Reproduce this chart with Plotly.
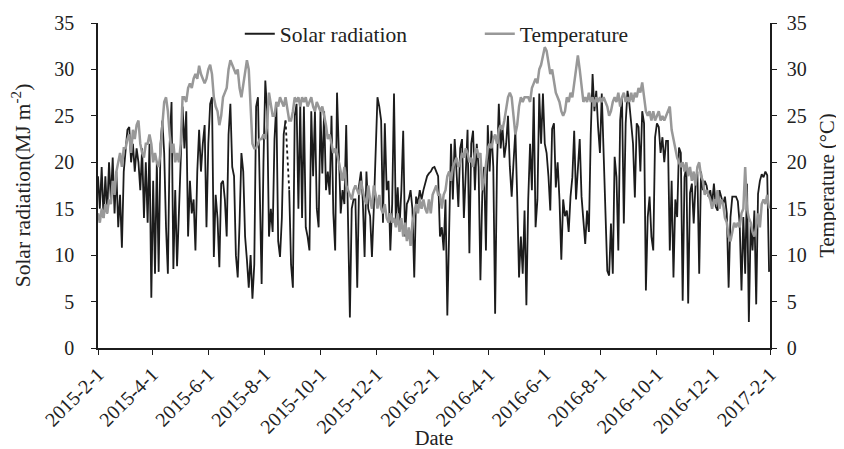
import pandas as pd
import plotly.graph_objects as go

# every second day, 2015-02-01 .. 2017-01-31
dates = pd.date_range("2015-02-01", periods=366, freq="2D")

solar = [
    18.5, 15, 19.5, 14, 18.5, 14.5, 20, 16, 20.5, 14.5,
    19, 13, 16.5, 10.8, 19, 21, 23.5, 23.8, 20, 22,
    19, 21.5, 20, 17, 21.5, 14, 20, 13.5, 22, 5.4,
    18, 8, 20, 8.2, 22, 24.5, 21, 13, 8, 22,
    26.5, 8.5, 17, 8.8, 14, 21, 26, 21.5, 25.5, 12,
    18, 14.5, 16, 10.5, 19, 23.5, 19, 22, 24, 13,
    22, 26.3, 27, 9.8, 16.5, 14, 8.7, 17.7, 18, 16,
    12, 23, 26.3, 19.5, 18.5, 10, 7.6, 13.5, 21, 19,
    12, 9.5, 6.5, 10, 5.3, 9, 26, 27, 17, 6.9,
    20, 28.8, 25.5, 12, 15, 12.5, 22.5, 26.3, 11.5, 9.8,
    14, 23, 24.5, None, 17, 9, 6.5, 25, 26.3, 15,
    26.3, 14, 26, 13, 12, 10.5, 25.5, 18.5, 25.5, 15,
    13, 25.5, 18.8, 25.5, 17, 19, 16.5, 25, 14.5, 10.5,
    27.5, 20, 14.5, 17, 15.5, 24, 13, 3.3, 15, 16,
    16, 6.5, 17.5, 19, 16, 9.8, 19, 15, 14.2, 9.8,
    15, 21, 27, 26, 24.5, 13.5, 24.2, 17, 18, 10.5,
    15.5, 27.4, 13.5, 17.3, 13, 17, 23.4, 12, 15.5, 16,
    17, 15, 7.6, 16.3, 15.5, 17, 16, 17, 17.7, 18.5,
    18.8, 19, 19.4, 19.5, 19, 18.5, 12, 13, 10.5, 16,
    3.5, 15, 22, 16, 22.5, 19, 15.2, 21.5, 22.5, 14,
    19.5, 23.5, 10.2, 22, 23.4, 17, 22, 19.5, 7.3, 16.5,
    19.5, 10.5, 24, 19, 23.4, 19.5, 3.7, 19.5, 26.3, 21.5,
    23.8, 20.5, 22, 25, 19.5, 16.3, 20, 23.4, 16.3, 7.6,
    12, 8, 14.8, 4.6, 16, 22, 17, 27, 13, 16,
    27.4, 22, 27.4, 22, 21, 18.5, 14.8, 23.6, 24.2, 17.3,
    20, 16, 9.5, 16, 14.2, 14.8, 12.5, 16.3, 18.4, 23.4,
    16, 20, 22.5, 16.3, 14.1, 11.2, 14.8, 12.5, 23, 29.5,
    25.5, 27.7, 23.8, 21, 27.4, 21.3, 15.5, 8.3, 7.8, 13.4,
    8, 20.6, 18.4, 10.5, 24.5, 27, 13.4, 24.2, 27.7, 26.3,
    24.2, 22, 16.2, 24.2, 23.8, 19, 25.5, 24.2, 6.2, 14.1,
    16.3, 12, 10.5, 22.7, 24.2, 23.8, 21, 22.7, 20, 22.3,
    22.3, 10.5, 18, 7.6, 16, 14.1, 21.6, 21, 5.1, 18.4,
    19.5, 4.8, 16.7, 17.7, 13.4, 17.7, 19, 8, 19, 17,
    18, 17.5, 16.3, 17, 15.5, 17.7, 15.2, 14.8, 17, 16.3,
    15.5, 16.3, 14.5, 6.5, 14.1, 16.3, 16.3, 16.3, 15.8, 13.4,
    6.2, 14.1, 8, 17.7, 2.8, 13.4, 10.5, 14.8, 4.7, 16.6,
    18, 18.7, 18.4, 19, 18.6, 8.2,
]

temperature = [
    14.5, 13.5, 15, 14, 15.5, 14.5, 16, 15.5, 18, 16.5,
    19, 20, 21, 19.5, 21.5, 21.5, 22.5, 23, 21, 23.5,
    22.5, 24, 24.5, 22, 21, 20.5, 22, 22, 23, 22,
    20, 21, 20, 19.5, 21, 24, 26.5, 27, 25.5, 23,
    21, 22, 20, 21, 20, 22, 27, 27, 26.5, 28,
    28.5, 28, 29, 29.5, 29, 30.4, 29.5, 29, 28.5, 29,
    30, 30.5, 29.5, 27, 26, 25.5, 24, 25, 27, 27.5,
    28, 30, 31, 30.5, 30, 29.5, 30, 28, 27, 28.5,
    30, 31, 30, 26, 22, 21.5, 21.5, 22, 22.5, 22.5,
    23, 22.5, 24, 27.5, 26, 25, 25, 26.5, 26, 27,
    26.5, 26, 27, 25.5, 24.5, 24.5, 25.5, 27, 26.5, 27,
    26, 27, 26.5, 27, 26, 26.5, 27, 26, 25.5, 26.5,
    26, 25.5, 26, 25, 24, 22.5, 23, 22, 21, 21.5,
    21, 20, 19, 18, 19.5, 17.5, 17, 16.5, 16, 17,
    17.5, 17, 16.5, 18, 17, 16, 15.5, 17.5, 16, 15,
    17.5, 16.5, 15, 16.5, 15, 14.5, 15.5, 14, 13.5, 14.5,
    13.5, 14, 13, 14.5, 12.5, 14, 12, 13.5, 11.5, 13,
    11, 13.5, 14.5, 15.5, 14.5, 16, 15, 16, 15, 14.5,
    16, 14.5, 16.5, 17, 17.5, 16.5, 16.5, 15, 16.5, 17,
    18.5, 19, 18, 19.5, 20, 20.5, 19.5, 20, 21, 20.5,
    21.5, 21, 20, 20.5, 19.5, 21, 21.5, 20.5, 21, 17,
    18, 19.5, 21.5, 22, 21.5, 22.5, 23, 22, 23.5, 24,
    23.5, 24.5, 26, 27, 27.5, 27, 25, 23, 24, 26,
    27, 26.5, 27, 27, 27, 26.5, 28, 28.5, 29, 28.5,
    30, 30.5, 31.5, 32.4, 32, 30.5, 29.5, 30, 28.5, 27.5,
    27, 26.5, 25.5, 25, 25.5, 27, 26.5, 27.5, 27, 28.5,
    30, 31.5, 30, 28, 26.5, 27, 26.5, 27.5, 26.5, 27,
    26, 27, 26.5, 27, 26.5, 27, 26.5, 26, 25, 25.5,
    26.5, 27, 26.5, 27.5, 26, 27, 27.5, 26.5, 27, 26.5,
    27.5, 26.5, 27.5, 27, 28, 27.5, 28.6, 27, 25.5, 25,
    25.5, 24.5, 25.5, 24.5, 25, 25.5, 24.5, 25, 24.5, 25,
    25.5, 26, 23.5, 22.5, 21.5, 20.5, 20, 19.5, 20, 19,
    20, 18.5, 19.5, 18, 19, 17.5, 19.5, 20, 18.5, 18,
    16.5, 17, 16.5, 16, 15, 16, 15.5, 17, 15, 16,
    15.5, 14, 13.5, 12, 11.5, 12.5, 13.5, 13, 13.5, 13,
    14.5, 15, 19.5, 15, 14, 13.5, 12.5, 12, 13, 14.5,
    13, 15.5, 16, 15.5, 16.5, 15,
]

tick_dates = ["2015-02-01", "2015-04-01", "2015-06-01", "2015-08-01", "2015-10-01",
              "2015-12-01", "2016-02-01", "2016-04-01", "2016-06-01", "2016-08-01",
              "2016-10-01", "2016-12-01", "2017-02-01"]
tick_labels = ["2015-2-1", "2015-4-1", "2015-6-1", "2015-8-1", "2015-10-1",
               "2015-12-1", "2016-2-1", "2016-4-1", "2016-6-1", "2016-8-1",
               "2016-10-1", "2016-12-1", "2017-2-1"]

assert len(solar) == len(dates) == len(temperature)

BLACK = "#1c1c1c"
GRAY = "#989898"
FONT = "Liberation Serif, Times New Roman, serif"

fig = go.Figure()
fig.add_trace(go.Scatter(x=dates, y=solar, mode="lines", name="Solar radiation",
                         line=dict(color=BLACK, width=1.8), connectgaps=False))
# gap in the record, drawn dotted
gi = solar.index(None)
fig.add_trace(go.Scatter(x=[dates[gi - 1], dates[gi + 1]], y=[solar[gi - 1], solar[gi + 1]],
                         mode="lines", showlegend=False, hoverinfo="skip",
                         line=dict(color=BLACK, width=1.8, dash="dot")))
fig.add_trace(go.Scatter(x=dates, y=temperature, mode="lines", name="Temperature",
                         yaxis="y2", line=dict(color=GRAY, width=2.5)))

axis_common = dict(showline=True, linecolor=BLACK, linewidth=1.5, ticks="outside",
                   ticklen=5, tickwidth=1.2, tickcolor=BLACK, showgrid=False,
                   zeroline=False, automargin=False)

# the page body adds an 8 px offset, so the figure is 8 px smaller than the window
fig.update_layout(
    width=836, height=441,
    margin=dict(l=90, r=74, t=15, b=101, autoexpand=False),
    paper_bgcolor="white", plot_bgcolor="white",
    font=dict(family=FONT, size=20, color="#222"),
    showlegend=True,
    legend=dict(orientation="h", x=0.211, xanchor="left", y=1.03, yanchor="top",
                bgcolor="rgba(0,0,0,0)", font=dict(size=21.5, family=FONT),
                entrywidth=195, entrywidthmode="pixels", traceorder="normal"),
    xaxis=dict(type="date", range=["2015-02-01", "2017-02-01"],
               tickvals=tick_dates, ticktext=tick_labels, tickangle=-45,
               tickfont=dict(size=20), title=dict(text="Date", standoff=2,
                                                   font=dict(size=20.5)),
               **axis_common),
    yaxis=dict(range=[0, 35], dtick=5, tickfont=dict(size=20), ticklabelstandoff=13,
               title=dict(text="Solar radiation(MJ m<sup>-2</sup>)", standoff=19,
                          font=dict(size=21.5)),
               **axis_common),
    yaxis2=dict(range=[0, 35], dtick=5, overlaying="y", side="right",
                tickfont=dict(size=20), ticklabelstandoff=6,
                title=dict(text="Temperature (°C)", standoff=14, font=dict(size=20.5)),
                **axis_common),
)

fig.write_html("out.html")
